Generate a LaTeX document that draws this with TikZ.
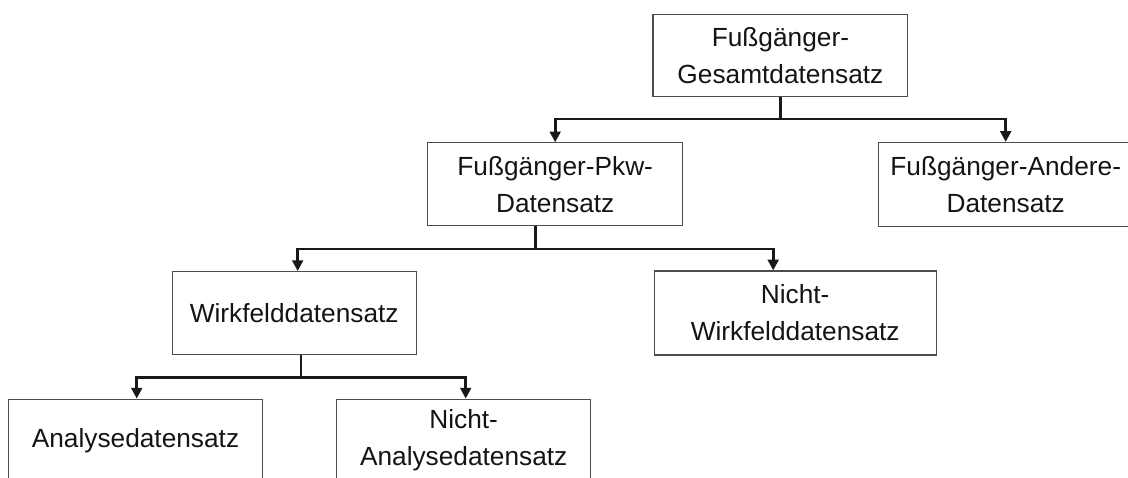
\documentclass[tikz,border=0pt]{standalone}
\usepackage{fontspec}
\setmainfont{Liberation Sans}
\usetikzlibrary{arrows.meta}

\tikzset{
  setbox/.style={draw=black!70, line width=0.9pt, text=black!92, align=center,
    inner sep=0pt, font=\fontsize{19.7}{27.7}\selectfont},
  stem/.style={line width=2.2pt, black!90},
  branch/.style={stem, -{Triangle[length=8pt,width=8pt]}}
}

\begin{document}
\begin{tikzpicture}[x=0.75pt,y=0.75pt,yscale=-1,xscale=1]
        \clip (0,0) rectangle (1128,478);

        % Level 0
        \node[setbox, minimum width=191pt, minimum height=62pt] (gesamt) at (780.4,55.5) {Fußgänger-\\Gesamtdatensatz};
        % Level 1
        \node[setbox, minimum width=191pt, minimum height=62pt] (pkw) at (555.2,184.2) {Fußgänger-Pkw-\\Datensatz};
        \node[setbox, minimum width=191pt, minimum height=63pt] (andere) at (1005.7,184.5) {Fußgänger-Andere-\\Datensatz};
        % Level 2
        \node[setbox, minimum width=183pt, minimum height=62pt] (wirk) at (294.2,313) {Wirkfelddatensatz};
        \node[setbox, minimum width=211.5pt, minimum height=63pt] (nichtwirk) at (795.2,313) {Nicht-\\Wirkfelddatensatz};
        % Level 3
        \node[setbox, minimum width=191pt, minimum height=62pt] (analyse) at (135.5,440.5) {Analysedatensatz};
        \node[setbox, minimum width=190.5pt, minimum height=62pt] (nichtanalyse) at (463.7,440.5) {Nicht-\\Analysedatensatz};

        % Junctions
        \coordinate (j1) at (780.4,119);
        \coordinate (j2) at (535.3,249);
        \coordinate (j3) at (301,377.7);

        % Connectors
        \draw[stem] (gesamt.south) -- (j1);
        \draw[branch] (j1) -| (pkw.north);
        \draw[branch] (j1) -| (andere.north);

        \draw[stem] (pkw.south -| j2) -- (j2);
        \draw[branch] (j2) -| ([xshift=2.6pt]wirk.north);
        \draw[branch] (j2) -| ([xshift=-16.5pt]nichtwirk.north);

        \draw[stem] (wirk.south -| j3) -- (j3);
        \draw[branch] (j3) -| ([xshift=0.9pt]analyse.north);
        \draw[branch] (j3) -| ([xshift=1.5pt]nichtanalyse.north);

\end{tikzpicture}
\end{document}
